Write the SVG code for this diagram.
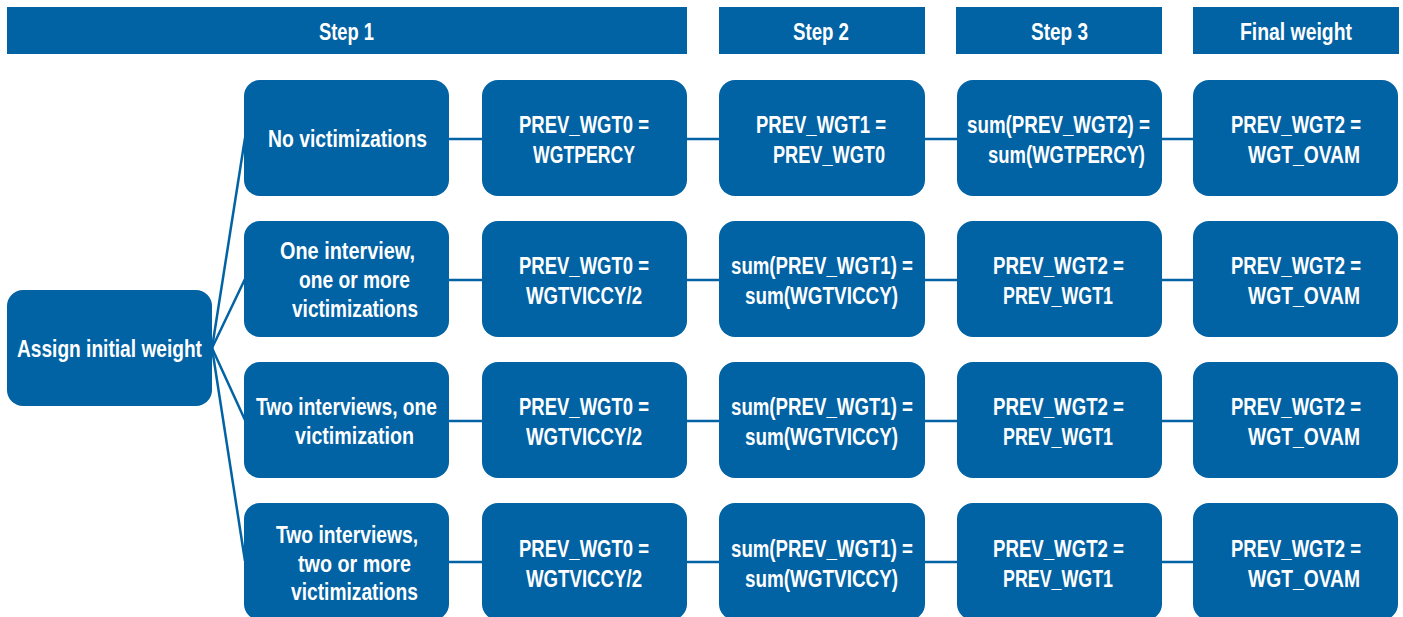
<svg xmlns="http://www.w3.org/2000/svg" width="1403" height="617" viewBox="0 0 1403 617">
<style>
.bar{fill:#0162a4}
.box{fill:#0162a4}
.t{fill:#ffffff;font-family:"Liberation Sans",Arial,sans-serif;font-weight:bold;font-size:24px}
.h{fill:#ffffff;font-family:"Liberation Sans",Arial,sans-serif;font-weight:bold;font-size:23px}
.c{stroke:#0162a4;stroke-width:2.5;fill:none}
</style>
<rect width="1403" height="617" fill="#ffffff"/>
<g id="headers">
<g id="h-step1"><rect class="bar" x="7" y="7" width="680" height="47"/><text class="h" x="319" y="40" textLength="55" lengthAdjust="spacingAndGlyphs">Step 1</text></g>
<g id="h-step2"><rect class="bar" x="719" y="7" width="206" height="47"/><text class="h" x="793" y="40" textLength="56" lengthAdjust="spacingAndGlyphs">Step 2</text></g>
<g id="h-step3"><rect class="bar" x="956" y="7" width="206" height="47"/><text class="h" x="1031" y="40" textLength="57" lengthAdjust="spacingAndGlyphs">Step 3</text></g>
<g id="h-final"><rect class="bar" x="1193" y="7" width="206" height="47"/><text class="h" x="1240" y="40" textLength="112" lengthAdjust="spacingAndGlyphs">Final weight</text></g>
</g>
<g id="connectors">
<line class="c" x1="212" y1="348" x2="245" y2="138"/>
<line class="c" x1="212" y1="348" x2="245" y2="279"/>
<line class="c" x1="212" y1="348" x2="245" y2="420"/>
<line class="c" x1="212" y1="348" x2="245" y2="561"/>
<line class="c" x1="449" y1="139" x2="1193" y2="139"/>
<line class="c" x1="449" y1="280" x2="1193" y2="280"/>
<line class="c" x1="449" y1="421" x2="1193" y2="421"/>
<line class="c" x1="449" y1="562" x2="1193" y2="562"/>
</g>
<g id="assign"><rect class="box" x="7" y="290" width="205" height="116" rx="16"/><text class="t" x="17" y="357" textLength="185" lengthAdjust="spacingAndGlyphs">Assign initial weight</text></g>
<!-- Row 1 -->
<g id="r1c1"><rect class="box" x="244" y="80" width="205" height="116" rx="16"/><text class="t" x="268" y="147" textLength="159" lengthAdjust="spacingAndGlyphs">No victimizations</text></g>
<g id="r1c2"><rect class="box" x="482" y="80" width="205" height="116" rx="16"/><text class="t" x="519" y="133" textLength="130" lengthAdjust="spacingAndGlyphs">PREV_WGT0 =</text><text class="t" x="533" y="163" textLength="102" lengthAdjust="spacingAndGlyphs">WGTPERCY</text></g>
<g id="r1c3"><rect class="box" x="719" y="80" width="206" height="116" rx="16"/><text class="t" x="756" y="133" textLength="130" lengthAdjust="spacingAndGlyphs">PREV_WGT1 =</text><text class="t" x="773" y="163" textLength="112" lengthAdjust="spacingAndGlyphs">PREV_WGT0</text></g>
<g id="r1c4"><rect class="box" x="957" y="80" width="205" height="116" rx="16"/><text class="t" x="967" y="133" textLength="183" lengthAdjust="spacingAndGlyphs">sum(PREV_WGT2) =</text><text class="t" x="988" y="163" textLength="157" lengthAdjust="spacingAndGlyphs">sum(WGTPERCY)</text></g>
<g id="r1c5"><rect class="box" x="1193" y="80" width="205" height="116" rx="16"/><text class="t" x="1231" y="133" textLength="130" lengthAdjust="spacingAndGlyphs">PREV_WGT2 =</text><text class="t" x="1248" y="163" textLength="112" lengthAdjust="spacingAndGlyphs">WGT_OVAM</text></g>
<!-- Row 2 -->
<g id="r2c1"><rect class="box" x="244" y="221" width="205" height="116" rx="16"/><text class="t" x="280" y="259" textLength="135" lengthAdjust="spacingAndGlyphs">One interview,</text><text class="t" x="299" y="288" textLength="111" lengthAdjust="spacingAndGlyphs">one or more</text><text class="t" x="292" y="317" textLength="126" lengthAdjust="spacingAndGlyphs">victimizations</text></g>
<g id="r2c2"><rect class="box" x="482" y="221" width="205" height="116" rx="16"/><text class="t" x="519" y="274" textLength="130" lengthAdjust="spacingAndGlyphs">PREV_WGT0 =</text><text class="t" x="526" y="304" textLength="116" lengthAdjust="spacingAndGlyphs">WGTVICCY/2</text></g>
<g id="r2c3"><rect class="box" x="719" y="221" width="206" height="116" rx="16"/><text class="t" x="731" y="274" textLength="182" lengthAdjust="spacingAndGlyphs">sum(PREV_WGT1) =</text><text class="t" x="745" y="304" textLength="153" lengthAdjust="spacingAndGlyphs">sum(WGTVICCY)</text></g>
<g id="r2c4"><rect class="box" x="957" y="221" width="205" height="116" rx="16"/><text class="t" x="993" y="274" textLength="131" lengthAdjust="spacingAndGlyphs">PREV_WGT2 =</text><text class="t" x="1003" y="304" textLength="110" lengthAdjust="spacingAndGlyphs">PREV_WGT1</text></g>
<g id="r2c5"><rect class="box" x="1193" y="221" width="205" height="116" rx="16"/><text class="t" x="1231" y="274" textLength="130" lengthAdjust="spacingAndGlyphs">PREV_WGT2 =</text><text class="t" x="1248" y="304" textLength="112" lengthAdjust="spacingAndGlyphs">WGT_OVAM</text></g>
<!-- Row 3 -->
<g id="r3c1"><rect class="box" x="244" y="362" width="205" height="116" rx="16"/><text class="t" x="256" y="415" textLength="181" lengthAdjust="spacingAndGlyphs">Two interviews, one</text><text class="t" x="295" y="444" textLength="119" lengthAdjust="spacingAndGlyphs">victimization</text></g>
<g id="r3c2"><rect class="box" x="482" y="362" width="205" height="116" rx="16"/><text class="t" x="519" y="415" textLength="130" lengthAdjust="spacingAndGlyphs">PREV_WGT0 =</text><text class="t" x="526" y="445" textLength="116" lengthAdjust="spacingAndGlyphs">WGTVICCY/2</text></g>
<g id="r3c3"><rect class="box" x="719" y="362" width="206" height="116" rx="16"/><text class="t" x="731" y="415" textLength="182" lengthAdjust="spacingAndGlyphs">sum(PREV_WGT1) =</text><text class="t" x="745" y="445" textLength="153" lengthAdjust="spacingAndGlyphs">sum(WGTVICCY)</text></g>
<g id="r3c4"><rect class="box" x="957" y="362" width="205" height="116" rx="16"/><text class="t" x="993" y="415" textLength="131" lengthAdjust="spacingAndGlyphs">PREV_WGT2 =</text><text class="t" x="1003" y="445" textLength="110" lengthAdjust="spacingAndGlyphs">PREV_WGT1</text></g>
<g id="r3c5"><rect class="box" x="1193" y="362" width="205" height="116" rx="16"/><text class="t" x="1231" y="415" textLength="130" lengthAdjust="spacingAndGlyphs">PREV_WGT2 =</text><text class="t" x="1248" y="445" textLength="112" lengthAdjust="spacingAndGlyphs">WGT_OVAM</text></g>
<!-- Row 4 -->
<g id="r4c1"><rect class="box" x="244" y="503" width="205" height="117" rx="16"/><text class="t" x="276" y="543" textLength="142" lengthAdjust="spacingAndGlyphs">Two interviews,</text><text class="t" x="298" y="572" textLength="113" lengthAdjust="spacingAndGlyphs">two or more</text><text class="t" x="291" y="600" textLength="127" lengthAdjust="spacingAndGlyphs">victimizations</text></g>
<g id="r4c2"><rect class="box" x="482" y="503" width="205" height="117" rx="16"/><text class="t" x="519" y="557" textLength="130" lengthAdjust="spacingAndGlyphs">PREV_WGT0 =</text><text class="t" x="526" y="587" textLength="116" lengthAdjust="spacingAndGlyphs">WGTVICCY/2</text></g>
<g id="r4c3"><rect class="box" x="719" y="503" width="206" height="117" rx="16"/><text class="t" x="731" y="557" textLength="182" lengthAdjust="spacingAndGlyphs">sum(PREV_WGT1) =</text><text class="t" x="745" y="587" textLength="153" lengthAdjust="spacingAndGlyphs">sum(WGTVICCY)</text></g>
<g id="r4c4"><rect class="box" x="957" y="503" width="205" height="117" rx="16"/><text class="t" x="993" y="557" textLength="131" lengthAdjust="spacingAndGlyphs">PREV_WGT2 =</text><text class="t" x="1003" y="587" textLength="110" lengthAdjust="spacingAndGlyphs">PREV_WGT1</text></g>
<g id="r4c5"><rect class="box" x="1193" y="503" width="205" height="117" rx="16"/><text class="t" x="1231" y="557" textLength="130" lengthAdjust="spacingAndGlyphs">PREV_WGT2 =</text><text class="t" x="1248" y="587" textLength="112" lengthAdjust="spacingAndGlyphs">WGT_OVAM</text></g>
</svg>
